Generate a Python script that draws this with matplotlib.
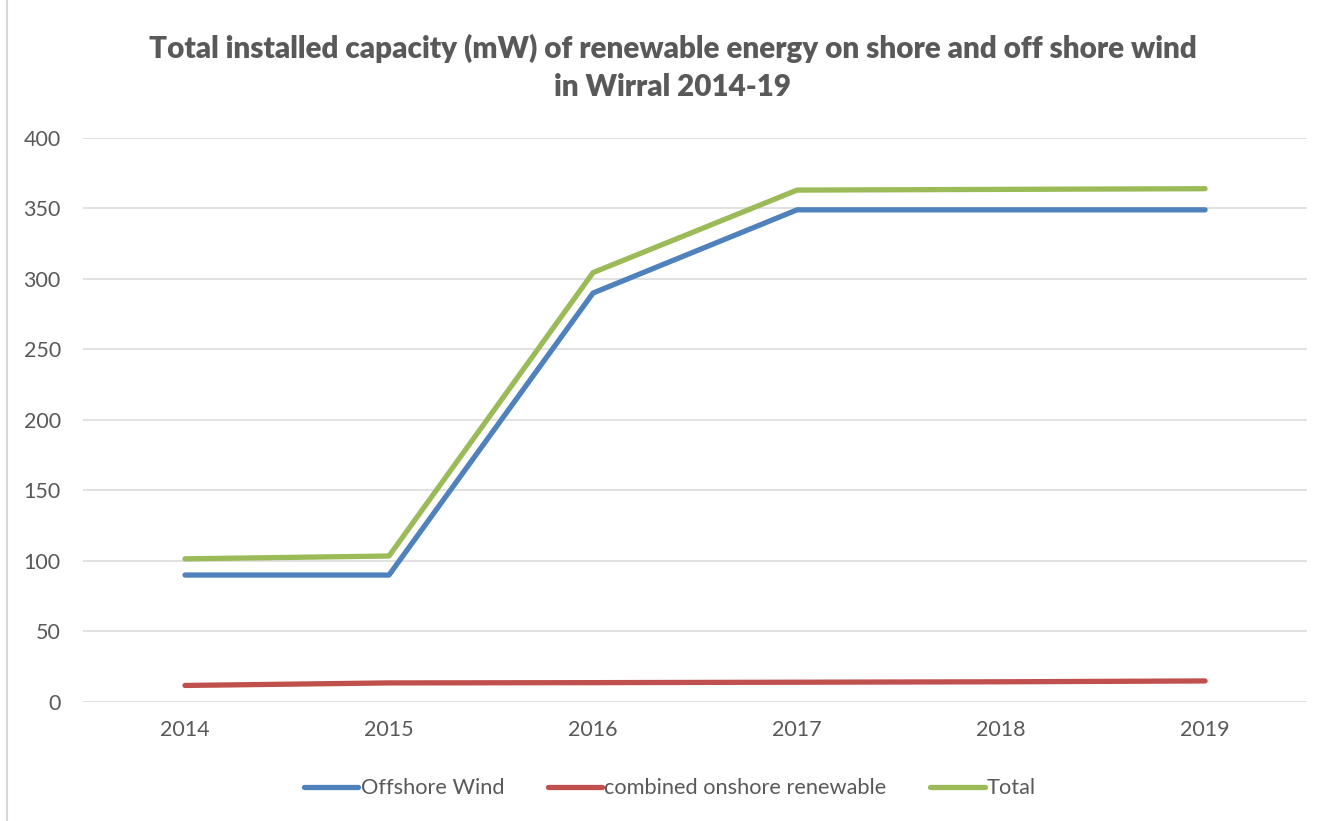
import matplotlib.pyplot as plt
from matplotlib.lines import Line2D

years = ['2014', '2015', '2016', '2017', '2018', '2019']
offshore = [90, 90, 290, 349, 349, 349]
onshore = [11.7, 13.5, 13.7, 14.0, 14.3, 14.9]
total = [101.5, 103.5, 304.5, 363, 363.5, 364]

plt.rcParams['font.family'] = ['Lato', 'DejaVu Sans']
grey = '#595959'

fig = plt.figure(figsize=(13.32, 8.21), dpi=100)
ax = fig.add_axes([0.0623, 0.145, 0.919, 0.687])

x = range(len(years))
ax.plot(x, offshore, color='#4F81BD', lw=3.8, solid_capstyle='round', label='Offshore Wind')
ax.plot(x, onshore, color='#C0504D', lw=3.8, solid_capstyle='round', label='combined onshore renewable')
ax.plot(x, total, color='#9BBB59', lw=3.8, solid_capstyle='round', label='Total')

ax.set_xlim(-0.5, len(years) - 0.5)
ax.set_ylim(0, 400)
ax.set_yticks(range(0, 401, 50))
ax.set_xticks(list(x))
ax.set_xticklabels(years)
ax.grid(axis='y', color='#D9D9D9', lw=1.1)
ax.set_axisbelow(True)
for s in ax.spines.values():
    s.set_visible(False)
ax.tick_params(length=0, labelsize=15.5, labelcolor=grey)
ax.tick_params(axis='y', pad=16)
ax.tick_params(axis='x', pad=13)

fig.text(0.505, 0.918, 'Total installed capacity (mW) of renewable energy on shore and off shore wind\nin Wirral 2014-19',
         ha='center', va='center', fontsize=21.3, fontweight='heavy', color=grey, linespacing=1.4)

leg = fig.legend(loc='center', bbox_to_anchor=(0.503, 0.04), ncol=3, frameon=False,
                 fontsize=15.7, handlelength=2.5, handletextpad=0.1, columnspacing=2.0)
for t in leg.get_texts():
    t.set_color(grey)

# chart border on the left edge
fig.add_artist(Line2D([0.0053, 0.0053], [0.0, 1.0], color='#D9D9D9', lw=1.5))

fig.savefig('out.png', dpi=100)
